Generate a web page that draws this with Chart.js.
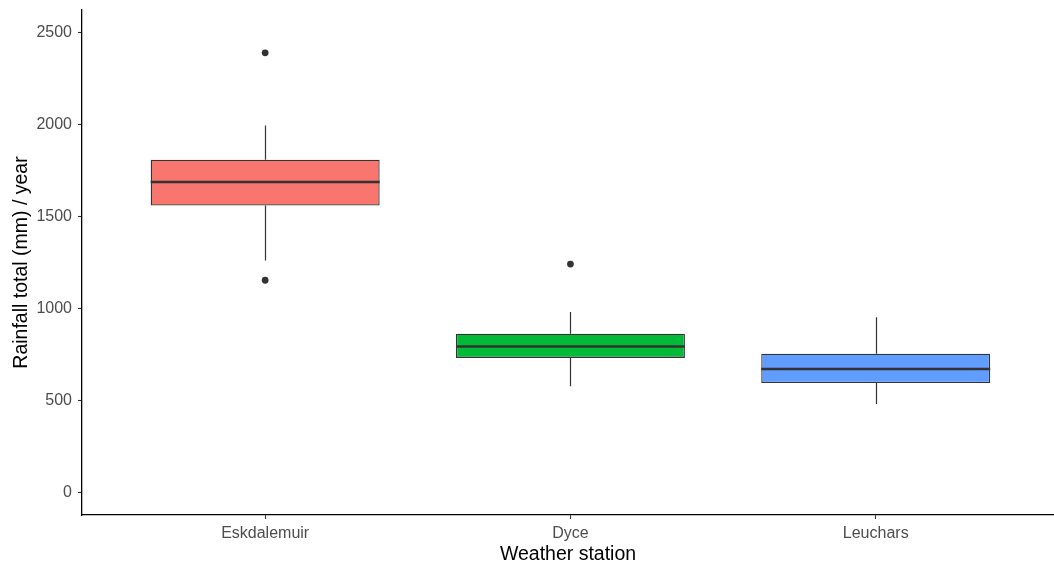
<!DOCTYPE html>
<html>
<head>
<meta charset="utf-8">
<script src="https://cdn.jsdelivr.net/npm/chart.js@4/dist/chart.umd.min.js"></script>
<style>
  html, body { margin: 0; padding: 0; background: #ffffff; }
  #wrap { width: 1054px; height: 564px; }
</style>
</head>
<body>
<div id="wrap"><canvas id="chart" width="1054" height="564"></canvas></div>
<script>
// Annual rainfall totals by weather station (box-plot summaries, mm / year)
const stations      = ['Eskdalemuir', 'Dyce', 'Leuchars'];
const lowerWhisker  = [1263, 580, 484];
const lowerQuartile = [1562, 734, 597];
const medianValues  = [1690, 796, 674];
const upperQuartile = [1811, 865, 757];
const upperWhisker  = [1997, 984, 955];
const outlierValues = [[2392, 1156], [1244], []];
const boxColours    = ['#F8766D', '#00BA38', '#619CFF'];
const yTickValues   = [0, 500, 1000, 1500, 2000, 2500];

const INK = '#333333';

// Boxes: floating bars from lower to upper quartile, one per station (x = 1, 2, 3)
const boxData = stations.map((s, i) => ({ x: i + 1, y: [lowerQuartile[i], upperQuartile[i]] }));
const outlierData = [];
outlierValues.forEach((vals, i) => vals.forEach(v => outlierData.push({ x: i + 1, y: v })));

// Whiskers and median lines, drawn through the chart's own scales
const boxExtras = {
  id: 'boxExtras',
  beforeDatasetsDraw(chart) {
    const { ctx, scales: { x, y } } = chart;
    ctx.save();
    ctx.strokeStyle = INK;
    ctx.lineWidth = 1.2;
    stations.forEach((s, i) => {
      const px = Math.round(x.getPixelForValue(i + 1)) + 0.5;
      ctx.beginPath();
      ctx.moveTo(px, y.getPixelForValue(upperWhisker[i]));
      ctx.lineTo(px, y.getPixelForValue(upperQuartile[i]));
      ctx.moveTo(px, y.getPixelForValue(lowerQuartile[i]));
      ctx.lineTo(px, y.getPixelForValue(lowerWhisker[i]));
      ctx.stroke();
    });
    ctx.restore();
  },
  afterDatasetsDraw(chart) {
    const { ctx, scales: { y } } = chart;
    const meta = chart.getDatasetMeta(0);
    ctx.save();
    ctx.strokeStyle = INK;
    ctx.lineWidth = 2.6;
    stations.forEach((s, i) => {
      const bar = meta.data[i];
      const half = bar.width / 2;
      const py = y.getPixelForValue(medianValues[i]);
      ctx.beginPath();
      ctx.moveTo(bar.x - half, py);
      ctx.lineTo(bar.x + half, py);
      ctx.stroke();
    });
    ctx.restore();
  }
};

const tickFont = { family: "'Liberation Sans', Arial, sans-serif", size: 16 };
const titleFont = { family: "'Liberation Sans', Arial, sans-serif", size: 19.5 };

new Chart(document.getElementById('chart'), {
  type: 'bar',
  data: {
    datasets: [
      {
        type: 'bar',
        data: boxData,
        backgroundColor: boxColours,
        borderColor: INK,
        borderWidth: 1.3,
        borderSkipped: false,
        categoryPercentage: 1,
        barPercentage: 0.75
      },
      {
        type: 'scatter',
        data: outlierData,
        pointRadius: 3.4,
        pointBackgroundColor: INK,
        pointBorderWidth: 0,
        showLine: false
      }
    ]
  },
  plugins: [boxExtras],
  options: {
    responsive: false,
    animation: false,
    devicePixelRatio: 1,
    layout: { autoPadding: false, padding: { top: 10, right: 0, bottom: 0, left: 0 } },
    plugins: { legend: { display: false }, tooltip: { enabled: false } },
    scales: {
      x: {
        type: 'linear',
        min: 0.4,
        max: 3.584,
        offset: false,
        afterBuildTicks(scale) { scale.ticks = stations.map((s, i) => ({ value: i + 1 })); },
        afterFit(scale) {
          scale.height = 49;
          scale.paddingLeft = 0;
          scale.paddingRight = 0;
        },
        ticks: {
          color: '#4D4D4D',
          font: tickFont,
          padding: 5,
          maxRotation: 0,
          autoSkip: false,
          callback: (v) => stations[Math.round(v) - 1] ?? ''
        },
        grid: { drawOnChartArea: false, offset: false, tickLength: 4, color: INK, tickWidth: 1.1 },
        border: { display: true, color: '#000000', width: 1.3 },
        title: {
          display: true,
          text: 'Weather station',
          color: '#000000',
          font: titleFont,
          padding: { top: 0, bottom: -2 }
        }
      },
      y: {
        type: 'linear',
        min: -120,
        max: 2625,
        afterBuildTicks(scale) { scale.ticks = yTickValues.map(v => ({ value: v })); },
        afterFit(scale) {
          scale.width = 82;
          scale.paddingTop = 0;
          scale.paddingBottom = 0;
        },
        ticks: {
          color: '#4D4D4D',
          font: tickFont,
          padding: 6,
          callback: (v) => String(v)
        },
        grid: { drawOnChartArea: false, tickLength: 4, color: INK, tickWidth: 1.1 },
        border: { display: true, color: '#000000', width: 1.3 },
        title: {
          display: true,
          text: 'Rainfall total (mm) / year',
          color: '#000000',
          font: titleFont,
          padding: { top: 10, bottom: 0 }
        }
      }
    }
  }
});
</script>
</body>
</html>
